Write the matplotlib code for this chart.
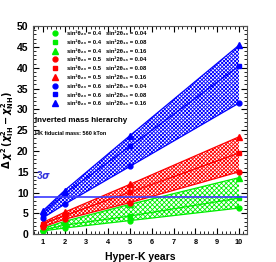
import numpy as np
import matplotlib
matplotlib.use("Agg")
import matplotlib.pyplot as plt
from matplotlib.lines import Line2D

# exposure in Hyper-K years
years = [1, 2, 5, 10]

# delta chi2 for each (sin2 theta23, sin2 2theta13) point
g_c = [0.8, 1.5, 3.3, 6.3]     # 0.4, 0.04
g_s = [1.0, 2.2, 4.4, 8.7]     # 0.4, 0.08
g_t = [1.4, 3.1, 7.2, 13.6]    # 0.4, 0.16
r_c = [1.75, 3.6, 7.6, 15.0]   # 0.5, 0.04
r_s = [2.5, 4.5, 10.1, 19.5]   # 0.5, 0.08
r_t = [2.8, 5.3, 12.0, 23.4]   # 0.5, 0.16
b_c = [3.9, 7.2, 16.3, 31.5]   # 0.6, 0.04
b_s = [4.9, 9.7, 21.1, 40.4]   # 0.6, 0.08
b_t = [5.6, 10.5, 23.7, 45.4]  # 0.6, 0.16

s23 = ["0.4", "0.5", "0.6"]
s13 = ["0.04", "0.08", "0.16"]

three_sigma = 9

plt.rcParams['font.family'] = ['Liberation Sans', 'DejaVu Sans']
plt.rcParams['font.weight'] = 'bold'
plt.rcParams['hatch.linewidth'] = 0.6

fig = plt.figure(figsize=(2.76, 2.62), dpi=100)
ax = fig.add_axes([0.1207, 0.1057, 0.773, 0.795])

groups = [
    ('#00ee00', g_c, g_s, g_t, 'x' * 7),
    ('#ff0000', r_c, r_s, r_t, 'x' * 9),
    ('#0000ff', b_c, b_s, b_t, 'x' * 9),
]

for col, yc, ys, yt, hh in groups:
    ax.fill_between(years, yc, yt, facecolor='none', edgecolor=col, hatch=hh, linewidth=0)
    for yy in (yc, ys, yt):
        ax.plot(years, yy, color=col, lw=0.9)

handles = []
labels = []
for i, (col, yc, ys, yt, hh) in enumerate(groups):
    for j, (yy, mk, ms) in enumerate(zip((yc, ys, yt), ('o', 's', '^'), (3.5, 3.5, 5))):
        ax.plot(years, yy, linestyle='none', marker=mk, ms=ms, color=col, mec=col)
        handles.append(Line2D([], [], linestyle='none', marker=mk, ms=ms, color=col))
        labels.append('sin\u00b2\u03b8\u2082\u2083 = ' + s23[i] + '   sin\u00b22\u03b8\u2081\u2083 = ' + s13[j])

ax.axhline(three_sigma, color='#3a3aff', lw=1.2)
ax.text(0.69, 14.2, r'3$\sigma$', color='#3333dd', fontsize=7, va='center')

ax.text(0.66, 27.4, 'Inverted mass hierarchy', fontsize=5.8, fontweight='bold', va='center')
ax.text(0.66, 24.3, 'HK fiducial mass: 560 kTon', fontsize=4, fontweight='bold', va='center')

leg = ax.legend(handles, labels, loc='upper left', bbox_to_anchor=(0.06, 0.995), frameon=False,
                fontsize=4.2, handlelength=1.5, handletextpad=1.3, labelspacing=0.63, borderpad=0.2)

ax.set_xlim(0.57, 10.35)
ax.set_ylim(0, 50)
ax.set_xticks(range(1, 11))
ax.set_yticks(range(0, 51, 5))
ax.set_xticks(np.arange(0.6, 10.35, 0.2), minor=True)
ax.set_yticks(range(0, 51, 1), minor=True)
ax.tick_params(which='both', direction='in', top=True, right=True)
ax.tick_params(axis='x', which='major', length=4, labelsize=5.3)
ax.tick_params(axis='y', which='major', length=4, labelsize=7.5)
ax.tick_params(which='minor', length=2)
for sp in ax.spines.values():
    sp.set_color('#555555')
    sp.set_linewidth(0.8)

ax.set_xlabel('Hyper-K years', fontsize=7.5, fontweight='bold', labelpad=4)
ax.set_ylabel(r'$\Delta\,\chi^2\,(\chi^2_{\mathbf{IH}}-\chi^2_{\mathbf{NH}})$', fontsize=7, labelpad=1)

fig.savefig('out.png', dpi=100)
